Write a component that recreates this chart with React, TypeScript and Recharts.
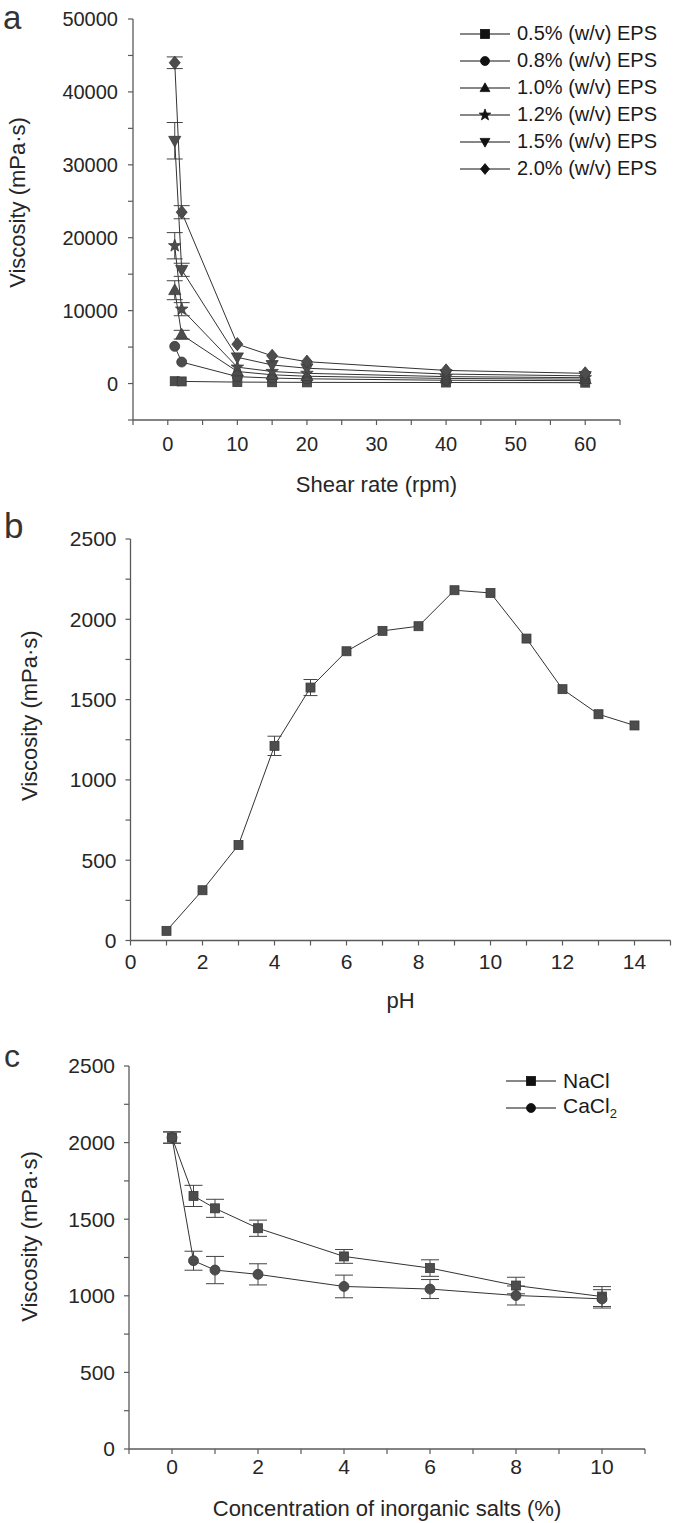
import React from 'react';
import { LineChart, Line, XAxis, YAxis, ErrorBar, Label } from 'recharts';

const FONT = "'Liberation Sans', Arial, Helvetica, sans-serif";
const INK = '#262626';
const AXIS = '#5a5a5a';
const LINE = '#333';
const MARK = '#4d4d4d';

// ---- panel a: viscosity vs shear rate ----
// null = error bar too small to show behind the marker
const shearRate = [1, 2, 10, 15, 20, 40, 60];
const eps05 = [320, 290, 200, 180, 160, 140, 120];
const eps08 = [5100, 2950, 950, 750, 650, 450, 400];
const eps10 = [12800, 6700, 1650, 1200, 1000, 700, 600];
const eps12 = [18900, 10200, 2250, 1650, 1400, 950, 800];
const eps15 = [33300, 15600, 3600, 2550, 2100, 1300, 1050];
const eps20 = [44000, 23500, 5400, 3800, 3000, 1800, 1400];
const err05 = [null, null, null, null, null, null, null];
const err08 = [null, null, null, null, null, null, null];
const err10 = [1300, 600, null, null, null, null, null];
const err12 = [1800, 900, null, null, null, null, null];
const err15 = [2500, 900, null, null, null, null, null];
const err20 = [800, 900, null, null, null, null, null];
const epsNames = [
  '0.5% (w/v) EPS',
  '0.8% (w/v) EPS',
  '1.0% (w/v) EPS',
  '1.2% (w/v) EPS',
  '1.5% (w/v) EPS',
  '2.0% (w/v) EPS',
];
const aTicksX = [-5, 0, 5, 10, 15, 20, 25, 30, 35, 40, 45, 50, 55, 60, 65];
const aLabelsX = [0, 10, 20, 30, 40, 50, 60];
const aTicksY = [-5000, 0, 5000, 10000, 15000, 20000, 25000, 30000, 35000, 40000, 45000, 50000];
const aLabelsY = [0, 10000, 20000, 30000, 40000, 50000];

// ---- panel b: viscosity vs pH ----
const pH = [1, 2, 3, 4, 5, 6, 7, 8, 9, 10, 11, 12, 13, 14];
const phVisc = [60, 313, 595, 1212, 1575, 1801, 1928, 1957, 2181, 2164, 1880, 1565, 1409, 1339];
const phErr = [null, null, null, 60, 50, null, null, null, null, null, null, null, null, null];
const bTicksX = [0, 1, 2, 3, 4, 5, 6, 7, 8, 9, 10, 11, 12, 13, 14, 15];
const bLabelsX = [0, 2, 4, 6, 8, 10, 12, 14];
const bcTicksY = [0, 250, 500, 750, 1000, 1250, 1500, 1750, 2000, 2250, 2500];
const bcLabelsY = [0, 500, 1000, 1500, 2000, 2500];

// ---- panel c: viscosity vs salt concentration ----
const saltConc = [0, 0.5, 1, 2, 4, 6, 8, 10];
const nacl = [2033, 1652, 1571, 1441, 1257, 1181, 1067, 995];
const naclErr = [37, 69, 59, 53, 45, 54, 54, 65];
const cacl2 = [2033, 1229, 1168, 1140, 1061, 1044, 1002, 980];
const cacl2Err = [37, 62, 89, 69, 74, 62, 62, 60];
const cTicksX = [-1, 0, 1, 2, 3, 4, 5, 6, 7, 8, 9, 10, 11];
const cLabelsX = [0, 2, 4, 6, 8, 10];

type Shape = 'square' | 'circle' | 'triangle' | 'star' | 'down' | 'diamond';

const Marker = ({ shape, x, y, size, fill }: { shape: Shape; x: number; y: number; size: number; fill: string }) => {
  const h = size / 2;
  const common = { fill, stroke: fill === MARK ? '#3a3a3a' : fill, strokeWidth: 0.8 };
  if (shape === 'square') return <rect x={x - h} y={y - h} width={size} height={size} {...common} />;
  if (shape === 'circle') return <circle cx={x} cy={y} r={h} {...common} />;
  if (shape === 'triangle')
    return <polygon points={`${x},${y - h * 1.15} ${x + h * 1.1},${y + h * 0.8} ${x - h * 1.1},${y + h * 0.8}`} {...common} />;
  if (shape === 'down')
    return <polygon points={`${x},${y + h * 1.15} ${x + h * 1.1},${y - h * 0.8} ${x - h * 1.1},${y - h * 0.8}`} {...common} />;
  if (shape === 'diamond')
    return <polygon points={`${x},${y - h * 1.2} ${x + h},${y} ${x},${y + h * 1.2} ${x - h},${y}`} {...common} />;
  const pts: string[] = [];
  for (let k = 0; k < 10; k++) {
    const r = k % 2 === 0 ? h * 1.1 : h * 0.45;
    const a = -Math.PI / 2 + (k * Math.PI) / 5;
    pts.push(`${x + r * Math.cos(a)},${y + r * Math.sin(a)}`);
  }
  return <polygon points={pts.join(' ')} {...common} />;
};

const dotOf = (shape: Shape, size: number) => (props: any) => {
  const { cx, cy, index } = props;
  if (cx == null || cy == null) return <g key={`d-${index}`} />;
  return <Marker key={`d-${index}`} shape={shape} x={cx} y={cy} size={size} fill={MARK} />;
};

const fmt = (labels: number[]) => (v: number) => (labels.includes(v) ? String(v) : '');

const yTitle = (cx: number, shift: number) => (props: any) => {
  const vb = props.viewBox || { y: 0, height: 0 };
  const cy = vb.y + vb.height / 2 + shift;
  return (
    <text x={cx} y={cy} transform={`rotate(-90 ${cx} ${cy})`} textAnchor="middle" dominantBaseline="central" fontSize={22} fill={INK}>
      Viscosity (mPa·s)
    </text>
  );
};

const xTitle = (text: string, dy: number) => (props: any) => {
  const vb = props.viewBox || { x: 0, y: 0, width: 0 };
  return (
    <text x={vb.x + vb.width / 2} y={vb.y + dy} textAnchor="middle" fontSize={22} fill={INK}>
      {text}
    </text>
  );
};

const aRows = shearRate.map((x, i) => ({
  x,
  v05: eps05[i], e05: err05[i],
  v08: eps08[i], e08: err08[i],
  v10: eps10[i], e10: err10[i],
  v12: eps12[i], e12: err12[i],
  v15: eps15[i], e15: err15[i],
  v20: eps20[i], e20: err20[i],
}));

const aSeries: { key: string; err: string; shape: Shape; size: number }[] = [
  { key: 'v05', err: 'e05', shape: 'square', size: 9 },
  { key: 'v08', err: 'e08', shape: 'circle', size: 10 },
  { key: 'v10', err: 'e10', shape: 'triangle', size: 11 },
  { key: 'v12', err: 'e12', shape: 'star', size: 12 },
  { key: 'v15', err: 'e15', shape: 'down', size: 11 },
  { key: 'v20', err: 'e20', shape: 'diamond', size: 11 },
];

const bRows = pH.map((x, i) => ({ x, v: phVisc[i], e: phErr[i] }));

const cRows = saltConc.map((x, i) => ({ x, na: nacl[i], naE: naclErr[i], ca: cacl2[i], caE: cacl2Err[i] }));

const axisLine = { stroke: AXIS, strokeWidth: 1.3 };
const tickLine = { stroke: AXIS, strokeWidth: 1.2 };

const LegendRow = ({ shape, text, fontSize }: { shape: Shape; text: React.ReactNode; fontSize: number }) => (
  <div style={{ display: 'flex', alignItems: 'center', height: 27 }}>
    <svg width={52} height={20} style={{ display: 'block' }}>
      <line x1={1} y1={10} x2={51} y2={10} stroke="#111" strokeWidth={1.2} />
      <Marker shape={shape} x={26} y={10} size={shape === 'star' ? 11 : 9} fill="#111" />
    </svg>
    <span style={{ marginLeft: 6, fontSize, color: '#1a1a1a', whiteSpace: 'nowrap' }}>{text}</span>
  </div>
);

const PanelTag = ({ ch, left, top, size }: { ch: string; left: number; top: number; size: number }) => (
  <div style={{ position: 'absolute', left, top, fontSize: size, lineHeight: 1, color: '#333' }}>{ch}</div>
);

export default function App() {
  return (
    <div style={{ position: 'absolute', left: 0, top: 0, width: 675, height: 1523, background: '#fff', fontFamily: FONT }}>
      {/* a */}
      <div style={{ position: 'absolute', left: 0, top: 0 }}>
        <LineChart width={675} height={500} data={aRows} margin={{ top: 19, right: 55, bottom: 40, left: 73 }}>
          <XAxis
            type="number"
            dataKey="x"
            domain={[-5, 65]}
            ticks={aTicksX}
            interval={0}
            tickFormatter={fmt(aLabelsX)}
            tickSize={5}
            tickMargin={12}
            height={40}
            axisLine={axisLine}
            tickLine={tickLine}
            tick={{ fontSize: 20, fill: INK }}
          >
            <Label content={xTitle('Shear rate (rpm)', 72)} />
          </XAxis>
          <YAxis
            type="number"
            domain={[-5000, 50000]}
            ticks={aTicksY}
            interval={0}
            tickFormatter={fmt(aLabelsY)}
            tickSize={5}
            tickMargin={10}
            width={60}
            axisLine={axisLine}
            tickLine={tickLine}
            tick={{ fontSize: 20, fill: INK }}
          >
            <Label content={yTitle(17, -17)} />
          </YAxis>
          {aSeries.map((s) => (
            <Line
              key={s.key}
              dataKey={s.key}
              type="linear"
              stroke={LINE}
              strokeWidth={1}
              dot={dotOf(s.shape, s.size)}
              activeDot={false}
              isAnimationActive={false}
            >
              <ErrorBar dataKey={s.err} direction="y" width={8} stroke="#444" strokeWidth={1} />
            </Line>
          ))}
        </LineChart>
        <div style={{ position: 'absolute', left: 459, top: 20 }}>
          {aSeries.map((s, i) => (
            <LegendRow key={s.key} shape={s.shape} text={epsNames[i]} fontSize={20} />
          ))}
        </div>
      </div>
      <PanelTag ch="a" left={3} top={1} size={33} />

      {/* b */}
      <div style={{ position: 'absolute', left: 0, top: 500 }}>
        <LineChart width={675} height={530} data={bRows} margin={{ top: 39, right: 4.5, bottom: 49.5, left: 70.5 }}>
          <XAxis
            type="number"
            dataKey="x"
            domain={[0, 15]}
            ticks={bTicksX}
            interval={0}
            tickFormatter={fmt(bLabelsX)}
            tickSize={5}
            tickMargin={9}
            height={40}
            axisLine={axisLine}
            tickLine={tickLine}
            tick={{ fontSize: 21, fill: INK }}
          >
            <Label content={xTitle('pH', 67)} />
          </XAxis>
          <YAxis
            type="number"
            domain={[0, 2500]}
            ticks={bcTicksY}
            interval={0}
            tickFormatter={fmt(bcLabelsY)}
            tickSize={5}
            tickMargin={9}
            width={60}
            axisLine={axisLine}
            tickLine={tickLine}
            tick={{ fontSize: 21, fill: INK }}
          >
            <Label content={yTitle(29, -24)} />
          </YAxis>
          <Line
            dataKey="v"
            type="linear"
            stroke={LINE}
            strokeWidth={1}
            dot={dotOf('square', 9)}
            activeDot={false}
            isAnimationActive={false}
          >
            <ErrorBar dataKey="e" direction="y" width={7} stroke="#444" strokeWidth={1} />
          </Line>
        </LineChart>
      </div>
      <PanelTag ch="b" left={4} top={508} size={35} />

      {/* c */}
      <div style={{ position: 'absolute', left: 0, top: 1030 }}>
        <LineChart width={675} height={493} data={cRows} margin={{ top: 36, right: 30, bottom: 34, left: 69 }}>
          <XAxis
            type="number"
            dataKey="x"
            domain={[-1, 11]}
            ticks={cTicksX}
            interval={0}
            tickFormatter={fmt(cLabelsX)}
            tickSize={5}
            tickMargin={5}
            height={40}
            axisLine={axisLine}
            tickLine={tickLine}
            tick={{ fontSize: 21, fill: INK }}
          >
            <Label content={xTitle('Concentration of inorganic salts (%)', 67)} />
          </XAxis>
          <YAxis
            type="number"
            domain={[0, 2500]}
            ticks={bcTicksY}
            interval={0}
            tickFormatter={fmt(bcLabelsY)}
            tickSize={5}
            tickMargin={9}
            width={60}
            axisLine={axisLine}
            tickLine={tickLine}
            tick={{ fontSize: 21, fill: INK }}
          >
            <Label content={yTitle(29, -21)} />
          </YAxis>
          <Line dataKey="na" type="linear" stroke={LINE} strokeWidth={1} dot={dotOf('square', 9)} activeDot={false} isAnimationActive={false}>
            <ErrorBar dataKey="naE" direction="y" width={9} stroke="#444" strokeWidth={1} />
          </Line>
          <Line dataKey="ca" type="linear" stroke={LINE} strokeWidth={1} dot={dotOf('circle', 10)} activeDot={false} isAnimationActive={false}>
            <ErrorBar dataKey="caE" direction="y" width={9} stroke="#444" strokeWidth={1} />
          </Line>
        </LineChart>
        <div style={{ position: 'absolute', left: 505, top: 37 }}>
          <LegendRow shape="square" text="NaCl" fontSize={21} />
          <LegendRow
            shape="circle"
            text={
              <>
                CaCl<sub style={{ fontSize: 13 }}>2</sub>
              </>
            }
            fontSize={21}
          />
        </div>
      </div>
      <PanelTag ch="c" left={4} top={1040} size={32} />
    </div>
  );
}
